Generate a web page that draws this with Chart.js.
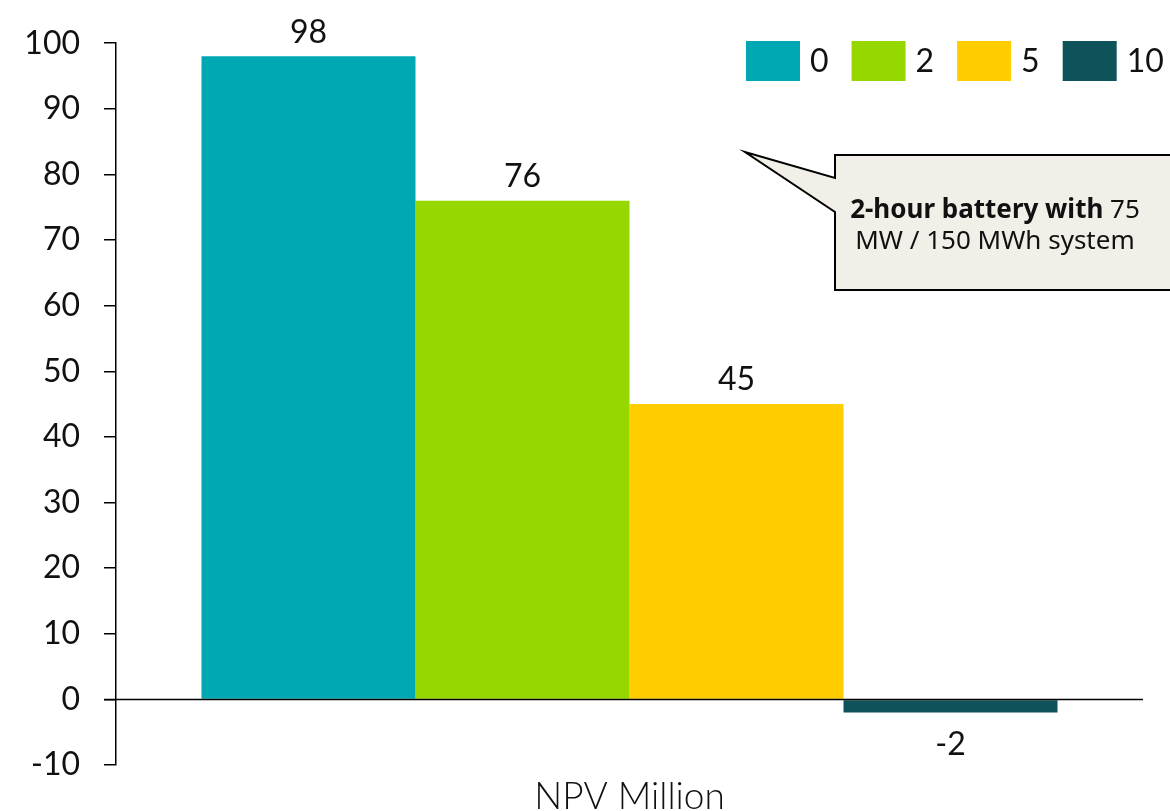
<!DOCTYPE html>
<html>
<head>
<meta charset="utf-8">
<script src="https://cdn.jsdelivr.net/npm/chart.js@4.4.0/dist/chart.umd.min.js"></script>
<style>
  html, body { margin: 0; padding: 0; background: #fff; overflow: hidden; }
  #wrap { width: 1170px; height: 811px; }
</style>
</head>
<body>
<div id="wrap"><canvas id="myChart" width="1170" height="811"></canvas></div>
<script>
var categories = ['NPV Million'];
var seriesNames = ['0', '2', '5', '10'];
var seriesValues = [98, 76, 45, -2];
var seriesColors = ['#00A8B4', '#97D700', '#FFCD00', '#0E535A'];
var yTicks = [-10, 0, 10, 20, 30, 40, 50, 60, 70, 80, 90, 100];

var FONT = "'Lato', 'DejaVu Sans', sans-serif";
var NOTE_FONT = "'Noto Sans', 'DejaVu Sans', sans-serif";

var datasets = [];
for (var i = 0; i < seriesNames.length; i++) {
    datasets.push({
        label: seriesNames[i],
        data: [seriesValues[i]],
        backgroundColor: seriesColors[i],
        borderWidth: 0
    });
}

var extras = {
    id: 'extras',
    afterDatasetsDraw: function (chart) {
        var ctx = chart.ctx;
        var y = chart.scales.y;
        var area = chart.chartArea;
        var y0 = Math.round(y.getPixelForValue(0)) + 0.5;

        // zero line
        ctx.save();
        ctx.strokeStyle = '#000';
        ctx.lineWidth = 1.5;
        ctx.beginPath();
        ctx.moveTo(area.left - 12, y0);
        ctx.lineTo(area.right, y0);
        ctx.stroke();

        // value labels
        ctx.fillStyle = '#111';
        ctx.font = '32px ' + FONT;
        ctx.textAlign = 'center';
        ctx.textBaseline = 'middle';
        var ds = chart.data.datasets;
        for (var i = 0; i < ds.length; i++) {
            var bar = chart.getDatasetMeta(i).data[0];
            var v = ds[i].data[0];
            if (v >= 0) {
                ctx.fillText(String(v), bar.x, bar.y - 24);
            } else {
                ctx.fillText(String(v), bar.x, bar.y + 32);
            }
        }

        // legend, top right
        ctx.textAlign = 'left';
        var lx = 746;
        for (var j = 0; j < ds.length; j++) {
            ctx.fillStyle = ds[j].backgroundColor;
            ctx.fillRect(lx, 41, 54, 40);
            lx += 54 + 10;
            ctx.fillStyle = '#111';
            ctx.fillText(ds[j].label, lx, 62);
            lx += ctx.measureText(ds[j].label).width + 23;
        }

        // callout
        ctx.fillStyle = '#F2EEE8';
        ctx.strokeStyle = '#000';
        ctx.lineWidth = 2;
        ctx.lineJoin = 'miter';
        ctx.beginPath();
        ctx.moveTo(835, 155);
        ctx.lineTo(1172, 155);
        ctx.lineTo(1172, 290);
        ctx.lineTo(835, 290);
        ctx.lineTo(835, 212);
        ctx.lineTo(745, 152);
        ctx.lineTo(835, 178);
        ctx.closePath();
        ctx.fill();
        ctx.stroke();

        ctx.fillStyle = '#111';
        ctx.textBaseline = 'middle';
        var boldPart = '2-hour battery with ';
        var normPart = '75';
        ctx.font = 'bold 26px ' + NOTE_FONT;
        var w1 = ctx.measureText(boldPart).width;
        ctx.font = '26px ' + NOTE_FONT;
        var w2 = ctx.measureText(normPart).width;
        var cx = 995;
        var sx = cx - (w1 + w2) / 2;
        ctx.font = 'bold 26px ' + NOTE_FONT;
        ctx.fillText(boldPart, sx, 211);
        ctx.font = '26px ' + NOTE_FONT;
        ctx.fillText(normPart, sx + w1, 211);
        ctx.textAlign = 'center';
        ctx.fillText('MW / 150 MWh system', cx, 242);
        ctx.restore();
    }
};

var ctx = document.getElementById('myChart').getContext('2d');
var myChart = new Chart(ctx, {
    type: 'bar',
    data: { labels: categories, datasets: datasets },
    options: {
        responsive: false,
        animation: false,
        layout: { padding: { top: 38, right: 27, left: 0, bottom: 0 } },
        barPercentage: 1.0,
        categoryPercentage: 0.8335,
        plugins: {
            legend: { display: false },
            tooltip: { enabled: false }
        },
        scales: {
            x: {
                grid: { display: false, drawTicks: false },
                border: { display: false },
                ticks: {
                    color: '#111',
                    padding: 10,
                    font: { family: FONT, size: 37, weight: 300 }
                },
                afterFit: function (s) { s.height = 46; }
            },
            y: {
                min: -10,
                max: 100,
                afterBuildTicks: function (s) {
                    s.ticks = yTicks.map(function (v) { return { value: v }; });
                },
                grid: {
                    drawOnChartArea: false,
                    drawTicks: true,
                    tickLength: 12,
                    color: '#000',
                    lineWidth: 1.5
                },
                border: { display: true, color: '#000', width: 1.5 },
                ticks: {
                    color: '#111',
                    padding: 24,
                    font: { family: FONT, size: 32 }
                },
                afterFit: function (s) { s.width = 116; }
            }
        }
    },
    plugins: [extras]
});
</script>
</body>
</html>
